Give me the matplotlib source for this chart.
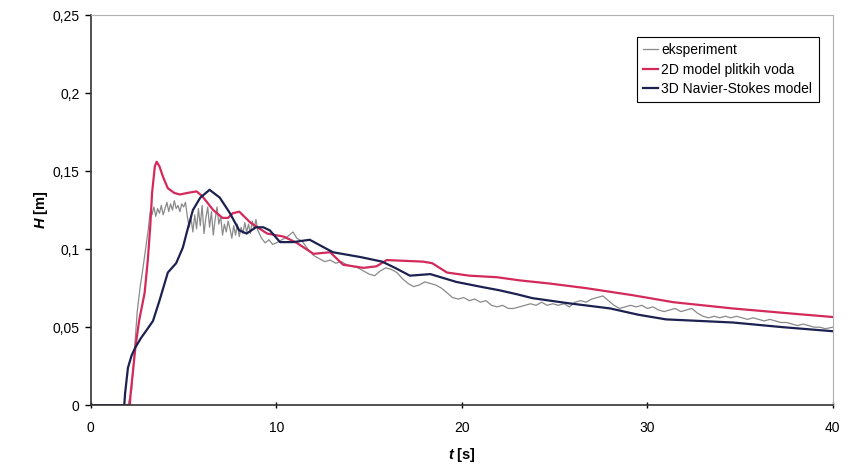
import matplotlib.pyplot as plt
from matplotlib.ticker import FuncFormatter

plt.rcParams['font.family'] = ['Liberation Sans', 'DejaVu Sans']
plt.rcParams['mathtext.fontset'] = 'custom'
plt.rcParams['mathtext.it'] = 'Liberation Sans:italic:bold'
plt.rcParams['mathtext.rm'] = 'Liberation Sans:bold'

# ---- data ----
t_exp = [0, 2.0, 2.2, 2.35, 2.5, 2.65, 2.8, 2.95, 3.1, 3.2, 3.3, 3.4, 3.5, 3.6, 3.7,
         3.8, 3.9, 4.0, 4.1, 4.2, 4.3, 4.4, 4.5, 4.6, 4.7, 4.8, 4.9, 5.0, 5.1, 5.2,
         5.3, 5.4, 5.5, 5.6, 5.7, 5.8, 5.9, 6.0, 6.1, 6.2, 6.3, 6.4, 6.5, 6.6, 6.7,
         6.8, 6.9, 7.0, 7.1, 7.2, 7.3, 7.4, 7.5, 7.6, 7.7, 7.8, 7.9, 8.0, 8.1, 8.2,
         8.3, 8.4, 8.5, 8.6, 8.7, 8.8, 8.9, 9.0, 9.2, 9.4, 9.6, 9.8, 10.0, 10.3,
         10.6, 10.9, 11.1, 11.4, 11.7, 12.0, 12.3, 12.6, 12.9, 13.2, 13.5, 13.8,
         14.1, 14.4, 14.7, 15.0, 15.3, 15.6, 15.9, 16.2, 16.5, 16.8, 17.1, 17.4,
         17.7, 18.0, 18.3, 18.6, 18.9, 19.2, 19.5, 19.8, 20.1, 20.4, 20.7, 21.0,
         21.3, 21.6, 21.9, 22.2, 22.5, 22.8, 23.1, 23.4, 23.7, 24.0, 24.3, 24.6,
         24.9, 25.2, 25.5, 25.8, 26.1, 26.4, 26.7, 27.0, 27.3, 27.6, 27.9, 28.2,
         28.5, 28.8, 29.1, 29.4, 29.7, 30.0, 30.3, 30.6, 30.9, 31.2, 31.5, 31.8,
         32.1, 32.4, 32.7, 33.0, 33.3, 33.6, 33.9, 34.2, 34.5, 34.8, 35.1, 35.4,
         35.7, 36.0, 36.3, 36.6, 36.9, 37.2, 37.5, 37.8, 38.1, 38.4, 38.7, 39.0,
         39.3, 39.6, 40.0]
h_exp = [0, 0, 0.01, 0.035, 0.06, 0.075, 0.087, 0.1, 0.113, 0.124, 0.122, 0.127,
         0.121, 0.126, 0.123, 0.128, 0.122, 0.126, 0.13, 0.124, 0.129, 0.125, 0.131,
         0.126, 0.128, 0.124, 0.129, 0.127, 0.13, 0.121, 0.114, 0.12, 0.111, 0.122,
         0.113, 0.126, 0.115, 0.128, 0.11, 0.12, 0.127, 0.114, 0.124, 0.109, 0.119,
         0.127, 0.116, 0.121, 0.109, 0.116, 0.111, 0.118, 0.113, 0.107, 0.115, 0.109,
         0.116, 0.108, 0.114, 0.11, 0.117, 0.111, 0.116, 0.11, 0.118, 0.113, 0.119,
         0.112, 0.107, 0.104, 0.106, 0.103, 0.104, 0.106, 0.108, 0.111, 0.107, 0.105,
         0.1, 0.096, 0.094, 0.092, 0.093, 0.091, 0.092, 0.09, 0.089, 0.088, 0.086,
         0.084, 0.083, 0.086, 0.088, 0.087, 0.085, 0.081, 0.078, 0.076, 0.077, 0.079,
         0.078, 0.077, 0.075, 0.072, 0.069, 0.068, 0.069, 0.067, 0.068, 0.066, 0.067,
         0.064, 0.063, 0.064, 0.062, 0.062, 0.063, 0.064, 0.065, 0.064, 0.066, 0.064,
         0.065, 0.064, 0.065, 0.063, 0.066, 0.067, 0.066, 0.068, 0.069, 0.07, 0.067,
         0.064, 0.062, 0.063, 0.064, 0.063, 0.064, 0.062, 0.063, 0.061, 0.06, 0.061,
         0.062, 0.06, 0.061, 0.062, 0.059, 0.057, 0.056, 0.057, 0.056, 0.057, 0.056,
         0.057, 0.056, 0.055, 0.056, 0.055, 0.054, 0.055, 0.054, 0.053, 0.053, 0.052,
         0.051, 0.052, 0.051, 0.05, 0.05, 0.049, 0.05]

t_2d = [0, 2.1, 2.15, 2.3, 2.4, 2.6, 2.9, 3.07, 3.2, 3.3, 3.45, 3.55, 3.7, 3.9, 4.15,
        4.5, 4.8, 5.2, 5.7, 6.0, 6.6, 7.1, 7.4, 7.65, 8.0, 8.6, 9.5, 10.4, 11.1, 12.0,
        12.9, 13.6, 14.7, 15.4, 15.95, 17.9, 18.4, 19.2, 20.4, 21.9, 23.1, 24.7, 26.7,
        29.2, 31.4, 34.6, 37.5, 40.0]
h_2d = [0, 0, 0.008, 0.025, 0.037, 0.054, 0.072, 0.093, 0.114, 0.136, 0.153, 0.156,
        0.153, 0.146, 0.139, 0.136, 0.135, 0.136, 0.137, 0.134, 0.125, 0.12, 0.12,
        0.123, 0.124, 0.117, 0.11, 0.108, 0.104, 0.097, 0.098, 0.09, 0.088, 0.089,
        0.093, 0.092, 0.091, 0.085, 0.083, 0.082, 0.08, 0.078, 0.075, 0.0705, 0.066,
        0.062, 0.059, 0.0565]

t_3d = [0, 1.8, 1.85, 2.0, 2.2, 2.4, 2.7, 3.0, 3.35, 3.7, 4.15, 4.6, 4.96, 5.2, 5.5,
        5.9, 6.4, 6.95, 7.5, 8.0, 8.4, 8.9, 9.3, 9.65, 10.2, 10.9, 11.8, 13.05, 14.5,
        15.7, 16.4, 17.2, 18.3, 19.7, 21.1, 22.0, 23.0, 23.8, 25.7, 28.0, 29.5, 31.0,
        32.8, 34.6, 37.3, 40.0]
h_3d = [0, 0, 0.008, 0.024, 0.032, 0.037, 0.043, 0.048, 0.054, 0.067, 0.085, 0.091,
        0.101, 0.112, 0.125, 0.133, 0.138, 0.133, 0.123, 0.112, 0.11, 0.114, 0.114,
        0.112, 0.1045, 0.1045, 0.106, 0.098, 0.095, 0.092, 0.088, 0.083, 0.084, 0.079,
        0.0757, 0.0737, 0.071, 0.0686, 0.0654, 0.062, 0.058, 0.055, 0.054, 0.053,
        0.05, 0.0474]

x_ticks = [0, 10, 20, 30, 40]
y_ticks = [0, 0.05, 0.1, 0.15, 0.2, 0.25]

# ---- figure ----
fig = plt.figure(figsize=(8.49, 4.69), dpi=100)
ax = fig.add_axes([0.107, 0.136, 0.874, 0.832])

ax.plot(t_exp, h_exp, color='#8a8a8a', lw=0.9, label='eksperiment')
ax.plot(t_2d, h_2d, color='#d42a5b', lw=1.6, label='2D model plitkih voda')
ax.plot(t_3d, h_3d, color='#1c2150', lw=1.6, label='3D Navier-Stokes model')

ax.set_xlim(0, 40)
ax.set_ylim(0, 0.25)
ax.set_xticks(x_ticks)
ax.set_yticks(y_ticks)
ax.yaxis.set_major_formatter(FuncFormatter(lambda v, p: ('%g' % v).replace('.', ',')))
ax.tick_params(axis='both', labelsize=10, width=1)
ax.tick_params(axis='x', direction='inout', length=5, pad=9)
ax.tick_params(axis='y', direction='out', length=4, pad=4)

for s in ['top', 'right']:
    ax.spines[s].set_color('#b0b0b0')
    ax.spines[s].set_linewidth(0.8)
for s in ['left', 'bottom']:
    ax.spines[s].set_color('#333333')
    ax.spines[s].set_linewidth(1.2)

ax.set_xlabel('$t$ [s]', fontsize=10.5, fontweight='bold', labelpad=8)
ax.set_ylabel('$H$ [m]', fontsize=10.5, fontweight='bold', labelpad=2)

leg = ax.legend(loc='upper right', bbox_to_anchor=(0.99, 0.962), fontsize=10,
                fancybox=False, framealpha=1, edgecolor='black', handlelength=1.1,
                handletextpad=0.2, borderpad=0.45, labelspacing=0.4)
leg.get_frame().set_linewidth(0.8)

fig.savefig('out.png', dpi=100)
